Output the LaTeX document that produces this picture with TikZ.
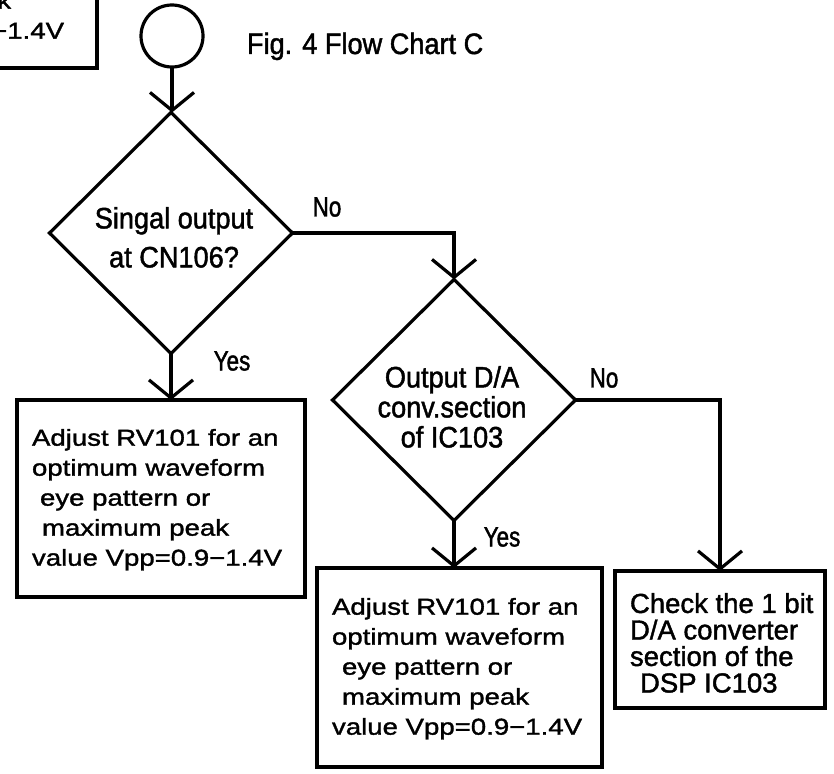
\documentclass[tikz,border=0pt]{standalone}
\usepackage{fontspec}
\setmainfont{Liberation Sans}
\newfontfamily\fN[FakeStretch=0.92,FakeBold=1.5]{Liberation Sans}
\newfontfamily\fL[FakeStretch=0.8,FakeBold=1.5]{Liberation Sans}
\newfontfamily\fW[FakeStretch=1.2,FakeBold=1.5]{Liberation Sans}
\newfontfamily\fM[FakeStretch=1.0,FakeBold=1.5]{Liberation Sans}
\usetikzlibrary{shapes.geometric,arrows.meta}
\begin{document}
\begin{tikzpicture}[x=1pt,y=-1pt,
  line width=3.2pt,
  every node/.style={inner sep=0pt, outer sep=0pt},
  box/.style={draw, rectangle},
  diam/.style={draw, diamond, minimum width=243pt, minimum height=241pt},
  arr/.style={-{Straight Barb[length=18pt,width=44pt]}},
  boxtext/.style={anchor=north west, align=left, font={\fW\fontsize{23}{30}\selectfont}},
  chktext/.style={anchor=north west, align=left, font={\fM\fontsize{27.5}{26.5}\selectfont}},
  dtext/.style={anchor=north, align=center, font={\fN\fontsize{29.5}{30}\selectfont}},
  lbl/.style={font={\fL\fontsize{28}{30}\selectfont}},
  ttl/.style={anchor=base west, font={\fN\fontsize{29.5}{30}\selectfont}}
]
\useasboundingbox (0,0) rectangle (834,773);

% fragment of a box cut by the top-left corner
\begin{scope}
\clip (0,0) rectangle (834,773);
\node[box, minimum width=288pt, minimum height=197pt] (b0) at (-47,-30.5) {};
\node[boxtext] (t0) at (-186,-98) {Adjust RV101 for an\\optimum waveform\\\hspace*{8pt}eye pattern or\\\hspace*{10pt}maximum peak\\value Vpp=0.9−1.4V};
\end{scope}

% start circle and title
\node[draw, circle, minimum size=62pt] (st) at (172,36) {};
\node[ttl] (title) at (247,54) {Fig. 4 Flow Chart C};

% decision 1
\node[diam] (d1) at (171,233) {};
\node[dtext, font={\fN\fontsize{29.5}{39}\selectfont}] (t1) at (174,207) {Singal output\\at CN106?};

% box 1
\node[box, minimum width=288pt, minimum height=197pt] (b1) at (161,498.5) {};
\node[boxtext] (tb1) at (32,429) {Adjust RV101 for an\\optimum waveform\\\hspace*{8pt}eye pattern or\\\hspace*{10pt}maximum peak\\value Vpp=0.9−1.4V};

% decision 2
\node[diam] (d2) at (454,400) {};
\node[dtext] (t2) at (452,366) {Output D/A\\conv.section\\of IC103};

% box 2
\node[box, minimum width=285pt, minimum height=199pt] (b2) at (459.5,667.5) {};
\node[boxtext] (tb2) at (332,598) {Adjust RV101 for an\\optimum waveform\\\hspace*{10pt}eye pattern or\\\hspace*{10pt}maximum peak\\value Vpp=0.9−1.4V};

% box 3
\node[box, minimum width=210pt, minimum height=137pt] (b3) at (720,639.5) {};
\node[chktext] (tb3) at (630,593) {Check the 1 bit\\D/A converter\\section of the\\\hspace*{10pt}DSP IC103};

% connectors
\draw[arr] (st.south) -- (st.south |- d1.north);
\draw[arr] (d1.south) -- (d1.south |- b1.north);
\draw[arr] (d1.east) -| (d2.north);
\draw[arr] (d2.south) -- (d2.south |- b2.north);
\draw[arr] (d2.east) -| (b3.north);

% labels
\node[lbl] (no1) at (327,207) {No};
\node[lbl] (yes1) at (232,361) {Yes};
\node[lbl] (no2) at (604,378) {No};
\node[lbl] (yes2) at (502,537) {Yes};
\end{tikzpicture}
\end{document}
